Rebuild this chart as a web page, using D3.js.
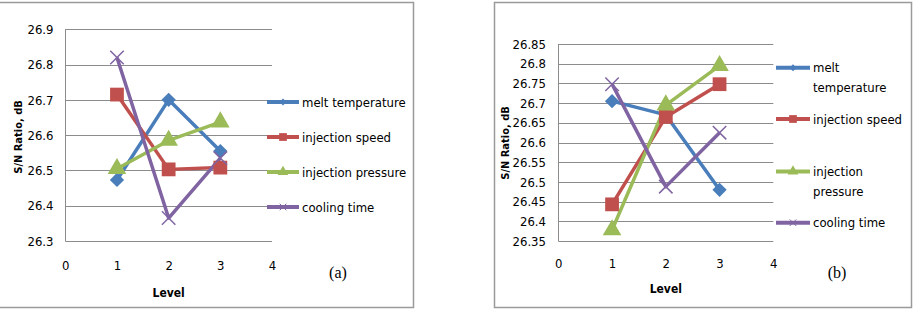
<!DOCTYPE html>
<html>
<head>
<meta charset="UTF-8">
<title>S/N ratio</title>
<style>
  body { margin: 0; background: #fff; }
  svg text { font-family: "DejaVu Sans Condensed", "DejaVu Sans", sans-serif; font-stretch: condensed; }
</style>
</head>
<body>
<script src="https://d3js.org/d3.v7.min.js"></script>
<script>
const levels = [1, 2, 3];
const seriesNames = ["melt temperature", "injection speed", "injection pressure", "cooling time"];
const colors = ["#4a7ebb", "#c0504d", "#9bbb59", "#8064a2"];
const markers = ["diamond", "square", "triangle", "cross"];

// panel (a)
const meltA = [26.473, 26.700, 26.555];
const speedA = [26.715, 26.503, 26.508];
const pressA = [26.505, 26.585, 26.637];
const coolA = [26.820, 26.365, 26.535];
const yTicksA = [26.3, 26.4, 26.5, 26.6, 26.7, 26.8, 26.9];

// panel (b)
const meltB = [26.705, 26.670, 26.480];
const speedB = [26.443, 26.665, 26.748];
const pressB = [26.378, 26.695, 26.795];
const coolB = [26.748, 26.488, 26.625];
const yTicksB = [26.35, 26.4, 26.45, 26.5, 26.55, 26.6, 26.65, 26.7, 26.75, 26.8, 26.85];

const xTicks = [0, 1, 2, 3, 4];

const svg = d3.select("body").append("svg").attr("width", 918).attr("height", 310);

// frames
svg.append("path").attr("d", "M0,2.5H413.5V307.5H0").attr("fill", "none").attr("stroke", "#9a9a9a").attr("stroke-width", 1.5);
svg.append("rect").attr("x", 494.5).attr("y", 2.5).attr("width", 417).attr("height", 305)
  .attr("fill", "none").attr("stroke", "#9a9a9a").attr("stroke-width", 1.5);

function symbolFor(m, size) {
  if (m == "diamond") return d3.symbol().type(d3.symbolDiamond2 || d3.symbolDiamond).size(size)();
  if (m == "square") return d3.symbol().type(d3.symbolSquare).size(size)();
  if (m == "triangle") return d3.symbol().type(d3.symbolTriangle).size(size)();
  return d3.symbol().type(d3.symbolX).size(size)();
}

function drawPanel(opt) {
  const g = svg.append("g");
  const x = d3.scaleLinear().domain([0, 4]).range([opt.left, opt.right]);
  const y = d3.scaleLinear().domain(opt.domain).range([opt.bottom, opt.top]);

  // gridlines
  g.selectAll(".grid").data(opt.yTicks).enter().append("line")
    .attr("x1", x(0)).attr("x2", x(4))
    .attr("y1", d => Math.round(y(d)) + 0.5).attr("y2", d => Math.round(y(d)) + 0.5)
    .attr("stroke", "#8c8c8c").attr("stroke-width", 1);
  g.append("line").attr("x1", Math.round(x(0)) + 0.5).attr("x2", Math.round(x(0)) + 0.5)
    .attr("y1", y(opt.domain[0])).attr("y2", y(opt.domain[1]))
    .attr("stroke", "#8c8c8c");

  const yAxis = d3.axisLeft(y).tickValues(opt.yTicks).tickSize(0).tickPadding(0).tickFormat(d => String(+d.toFixed(2)));
  const ya = g.append("g").attr("transform", "translate(" + opt.tickRight + ",0)").call(yAxis);
  ya.select(".domain").remove();
  ya.selectAll("text").attr("font-size", 13).attr("fill", "#000").attr("font-family", null);

  const xAxis = d3.axisBottom(x).tickValues(xTicks).tickSize(0).tickPadding(0).tickFormat(d3.format("d"));
  const xa = g.append("g").attr("transform", "translate(0," + opt.xLabelY + ")").call(xAxis);
  xa.select(".domain").remove();
  xa.selectAll("text").attr("font-size", 13).attr("fill", "#000").attr("font-family", null)
    .attr("dy", "0.35em");

  g.append("text").attr("x", x(2)).attr("y", opt.levelY).attr("text-anchor", "middle")
    .attr("font-size", 12).attr("font-weight", "bold").attr("dy", "0.35em").text("Level");

  g.append("text").attr("transform", "translate(" + opt.titleX + "," + opt.titleY + ") rotate(-90)")
    .attr("text-anchor", "middle").attr("dy", "0.35em")
    .attr("font-weight", "bold").attr("font-size", 11).text("S/N Ratio, dB");

  const line = d3.line().x((d, i) => x(levels[i])).y(d => y(d));
  opt.series.forEach((vals, k) => {
    g.append("path").datum(vals).attr("d", line).attr("fill", "none")
      .attr("stroke", colors[k]).attr("stroke-width", 3.5).attr("stroke-linejoin", "round");
  });
  opt.series.forEach((vals, k) => {
    const m = markers[k];
    const size = m == "square" ? 190 : m == "triangle" ? 150 : m == "diamond" ? 130 : 120;
    g.selectAll(".mk" + k).data(vals).enter().append("path")
      .attr("transform", (d, i) => "translate(" + x(levels[i]) + "," + y(d) + ")")
      .attr("d", symbolFor(m, size))
      .attr("fill", m == "cross" ? "none" : colors[k])
      .attr("stroke", colors[k]).attr("stroke-width", m == "cross" ? 1.5 : 0);
  });

  // legend
  opt.legend.forEach((it, k) => {
    g.append("line").attr("x1", opt.legX).attr("x2", opt.legX + opt.legLen)
      .attr("y1", it.y).attr("y2", it.y).attr("stroke", colors[k]).attr("stroke-width", 4);
    const m = markers[k];
    const size = m == "square" ? 60 : m == "triangle" ? 50 : 30;
    g.append("path").attr("transform", "translate(" + (opt.legX + opt.legLen / 2) + "," + it.y + ")")
      .attr("d", symbolFor(m, size)).attr("fill", m == "cross" ? "none" : colors[k])
      .attr("stroke", colors[k]).attr("stroke-width", m == "cross" ? 1 : 0);
    const t = g.append("text").attr("x", opt.legX + opt.legLen + 3).attr("font-size", 13).attr("fill", "#000");
    it.lines.forEach((s, j) => {
      t.append("tspan").attr("x", opt.legX + opt.legLen + 3).attr("y", it.y + j * opt.legLine).attr("dy", "0.35em").text(s);
    });
  });

  g.append("text").attr("x", opt.capX).attr("y", opt.capY).attr("text-anchor", "middle")
    .attr("dy", "0.35em").attr("font-size", 16)
    .style("font-family", "'Liberation Serif', serif").style("font-stretch", "normal").text(opt.caption);
}

drawPanel({
  left: 65.3, right: 272, top: 29.3, bottom: 241,
  domain: [26.3, 26.9], yTicks: yTicksA, tickRight: 53.5,
  xLabelY: 265, levelY: 293, titleX: 18, titleY: 137,
  series: [meltA, speedA, pressA, coolA],
  legX: 267, legLen: 32, legLine: 19,
  legend: [
    { y: 102, lines: [seriesNames[0]] },
    { y: 137, lines: [seriesNames[1]] },
    { y: 172, lines: [seriesNames[2]] },
    { y: 207, lines: [seriesNames[3]] }
  ],
  capX: 338, capY: 272, caption: "(a)"
});

drawPanel({
  left: 558.3, right: 773.3, top: 44, bottom: 241,
  domain: [26.35, 26.85], yTicks: yTicksB, tickRight: 546,
  xLabelY: 263, levelY: 289, titleX: 505, titleY: 143,
  series: [meltB, speedB, pressB, coolB],
  legX: 776, legLen: 34, legLine: 19.5,
  legend: [
    { y: 67.7, lines: ["melt", "temperature"] },
    { y: 119, lines: ["injection speed"] },
    { y: 171.5, lines: ["injection", "pressure"] },
    { y: 222.7, lines: ["cooling time"] }
  ],
  capX: 837, capY: 272, caption: "(b)"
});
</script>
</body>
</html>
